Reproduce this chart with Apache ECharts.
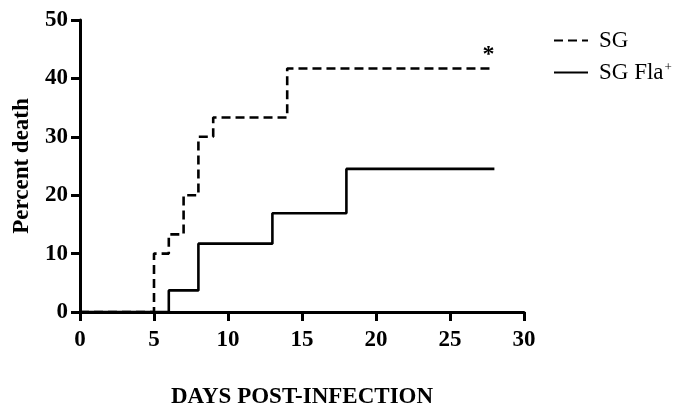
<!DOCTYPE html>
<html><head><meta charset="utf-8">
<script src="https://cdn.jsdelivr.net/npm/echarts@6/dist/echarts.min.js"></script>
<style>html,body{margin:0;padding:0;background:#fff}#c{width:681px;height:412px}</style>
</head><body><div id="c"></div>
<script>
const days_SG = [0, 5, 6, 7, 8, 9, 14, 28];
const death_SG = [0, 10, 13.3, 20, 30, 33.3, 41.7, 41.7];
const days_Fla = [0, 6, 8, 13, 18, 28];
const death_Fla = [0, 3.7, 11.7, 16.9, 24.5, 24.5];
const xTicks = [0, 5, 10, 15, 20, 25, 30];
const yTicks = [0, 10, 20, 30, 40, 50];
const seriesNames = ['SG', 'SG Fla+'];
const signif = '*';

const font = '"Liberation Serif","Times New Roman",serif';
const chart = echarts.init(document.getElementById('c'));
const pair = (xs, ys) => xs.map((x, i) => [x, ys[i]]);
function axis(extra, margin) {
  return Object.assign({
    type: 'value',
    axisLine: {show: true, onZero: false, lineStyle: {color: '#000', width: 3}},
    axisTick: {show: true, inside: false, length: 9, lineStyle: {color: '#000', width: 3}},
    splitLine: {show: false},
    axisLabel: {color: '#000', fontFamily: font, fontWeight: 'bold', fontSize: 23, margin: margin},
    nameTextStyle: {color: '#000', fontFamily: font, fontWeight: 'bold', fontSize: 23}
  }, extra);
}
chart.setOption({
  animation: false,
  backgroundColor: '#fff',
  grid: {left: 80, right: 157, top: 20, bottom: 100, containLabel: false, outerBoundsMode: 'none'},
  xAxis: axis({
    min: xTicks[0], max: xTicks[xTicks.length - 1], interval: 5,
    name: 'DAYS POST-INFECTION', nameLocation: 'middle', nameGap: 74
  }, 17),
  yAxis: axis({
    min: yTicks[0], max: yTicks[yTicks.length - 1], interval: 10,
    name: 'Percent death', nameLocation: 'middle', nameGap: 46
  }, 12),
  legend: {
    orient: 'vertical', left: 548, top: 24, itemWidth: 34, itemHeight: 14, itemGap: 9,
    itemStyle: {opacity: 0},
    lineStyle: {opacity: 1},
    data: [{name: seriesNames[0]}, {name: seriesNames[1]}],
    formatter: n => n === seriesNames[1] ? '{a|SG Fla}{s|+}' : '{a|' + n + '}',
    textStyle: {
      color: '#000', fontFamily: font, fontSize: 23,
      rich: {
        a: {fontFamily: font, fontSize: 23, color: '#000', padding: [0, 0, 0, 6]},
        s: {fontFamily: font, fontSize: 13, color: '#000', verticalAlign: 'top', padding: [0, 0, 10, 1]}
      }
    }
  },
  series: [
    {
      name: seriesNames[0], type: 'line', step: 'end', symbol: 'none',
      data: pair(days_SG, death_SG),
      lineStyle: {color: '#000', width: 2.6, type: [9, 5]},
      itemStyle: {color: '#000'},
      markPoint: {
        symbol: 'circle', symbolSize: 0,
        data: [{coord: [days_SG[days_SG.length - 1], death_SG[death_SG.length - 1]]}],
        label: {show: true, formatter: signif, color: '#000', fontFamily: font, fontWeight: 'bold', fontSize: 24, offset: [-6, -14]}
      }
    },
    {
      name: seriesNames[1], type: 'line', step: 'end', symbol: 'none',
      data: pair(days_Fla, death_Fla),
      lineStyle: {color: '#000', width: 2.6, type: 'solid'},
      itemStyle: {color: '#000'}
    }
  ]
});
</script></body></html>
